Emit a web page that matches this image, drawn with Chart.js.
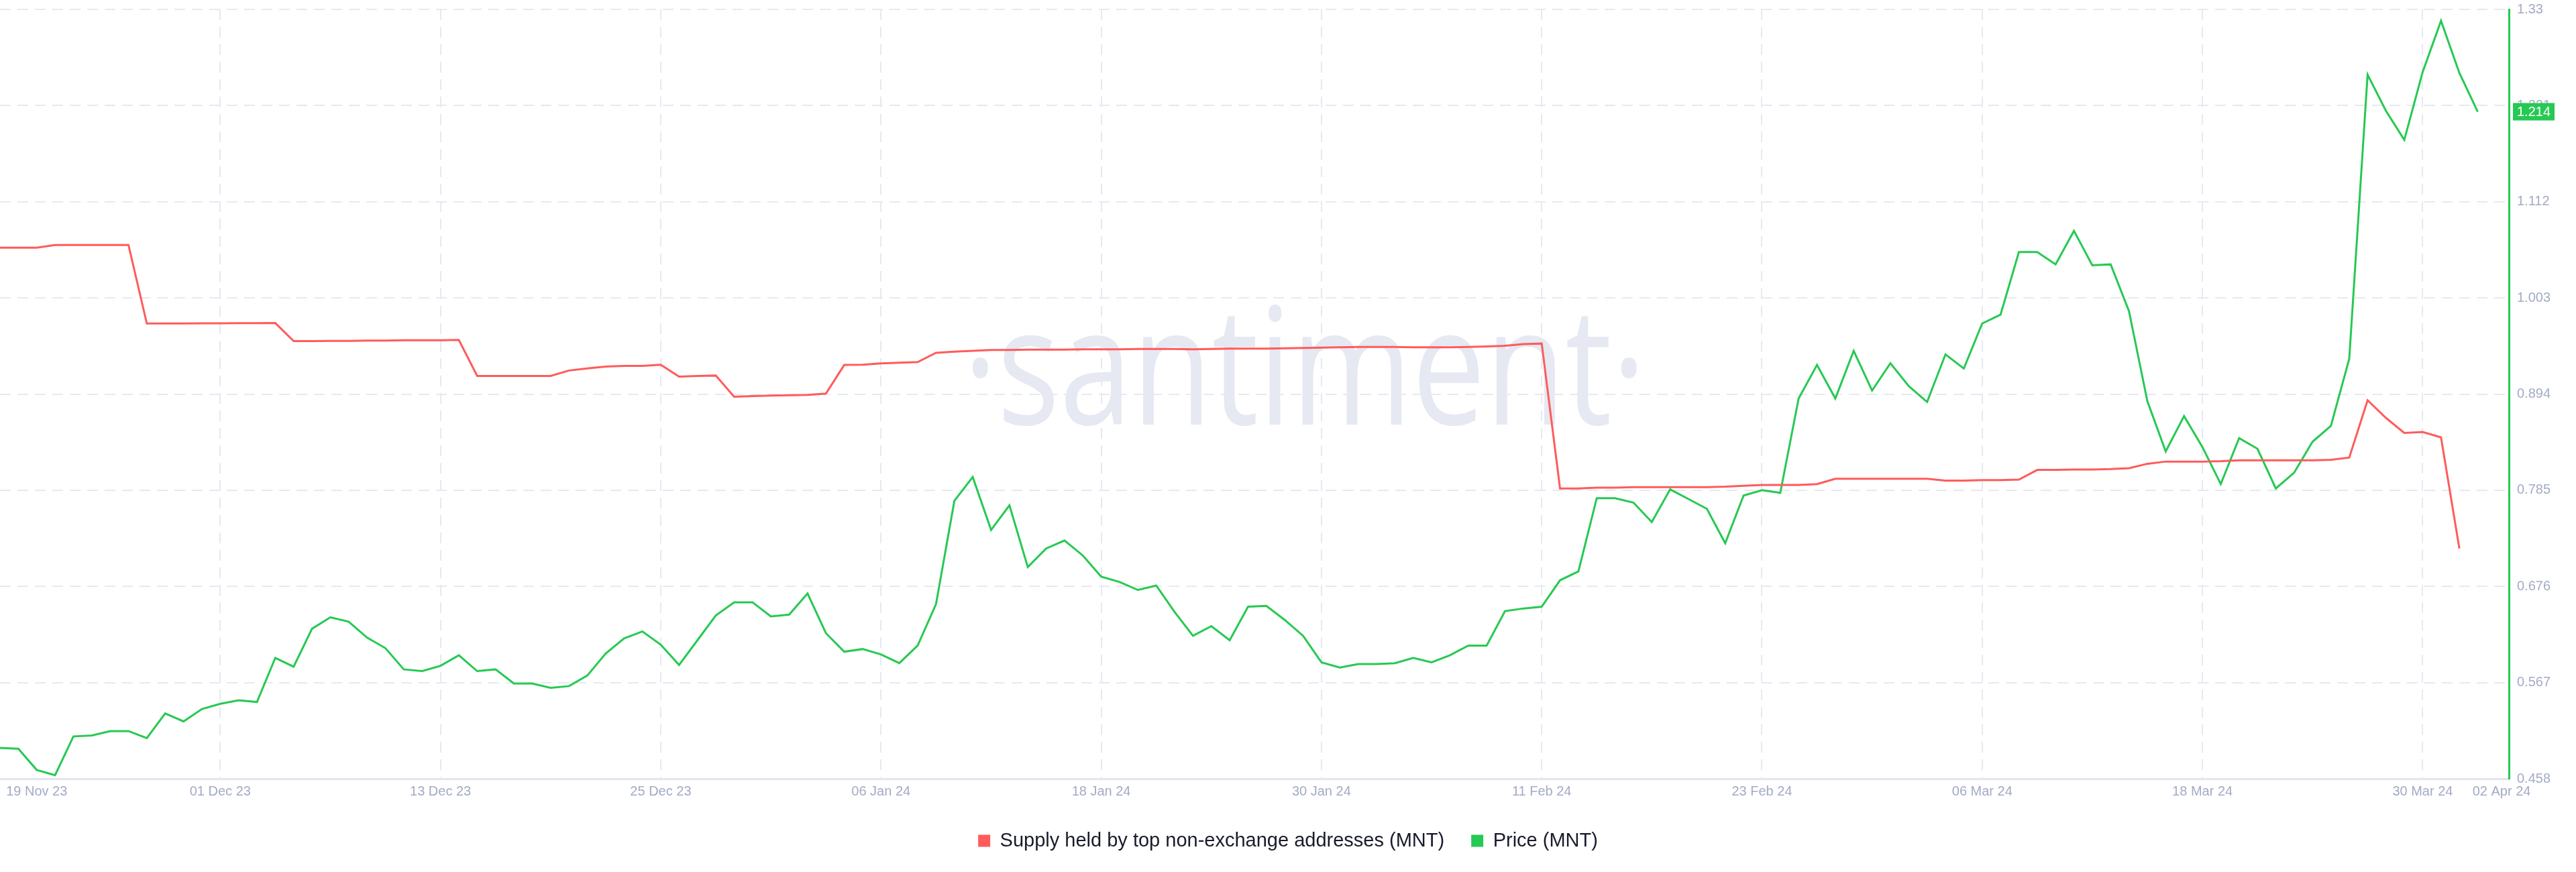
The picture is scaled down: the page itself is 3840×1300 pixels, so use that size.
<!DOCTYPE html>
<html>
<head>
<meta charset="utf-8">
<script src="https://cdn.jsdelivr.net/npm/chart.js@4.4.1/dist/chart.umd.min.js"></script>
<style>
  html, body { margin: 0; padding: 0; background: #fff; }
  #wrap { width: 3840px; height: 1300px; }
</style>
</head>
<body>
<div id="wrap"><canvas id="chart" width="3840" height="1300"></canvas></div>
<script>
// daily values, day 0 = 19 Nov 23
const priceMNT = [
  0.493, 0.492, 0.468, 0.462, 0.506, 0.507, 0.512, 0.512, 0.504, 0.532,
  0.523, 0.537, 0.543, 0.547, 0.545, 0.595, 0.585, 0.628, 0.641, 0.636,
  0.618, 0.606, 0.582, 0.580, 0.586, 0.598, 0.580, 0.582, 0.566, 0.566,
  0.561, 0.563, 0.575, 0.600, 0.617, 0.625, 0.610, 0.587, 0.615, 0.643,
  0.658, 0.658, 0.642, 0.644, 0.668, 0.623, 0.602, 0.605, 0.599, 0.589,
  0.609, 0.656, 0.773, 0.800, 0.740, 0.768, 0.698, 0.719, 0.728, 0.711,
  0.687, 0.681, 0.672, 0.677, 0.647, 0.620, 0.631, 0.615, 0.653, 0.654,
  0.638, 0.620, 0.590, 0.584, 0.588, 0.588, 0.589, 0.595, 0.590, 0.598,
  0.609, 0.609, 0.648, 0.651, 0.653, 0.683, 0.693, 0.776, 0.776, 0.771,
  0.749, 0.786, 0.775, 0.764, 0.725, 0.779, 0.785, 0.782, 0.889, 0.927,
  0.889, 0.943, 0.898, 0.929, 0.903, 0.885, 0.939, 0.923, 0.974, 0.984,
  1.055, 1.055, 1.041, 1.079, 1.040, 1.041, 0.988, 0.886, 0.829, 0.869,
  0.834, 0.792, 0.844, 0.832, 0.787, 0.805, 0.840, 0.858, 0.934, 1.256,
  1.215, 1.182, 1.259, 1.317, 1.258, 1.214
];

// supply held by top non-exchange addresses (own hidden axis)
const supplyTop = [
  1.060, 1.060, 1.060, 1.063, 1.063, 1.063, 1.063, 1.063, 0.974, 0.974,
  0.974, 0.9742, 0.9742, 0.9744, 0.9744, 0.9745, 0.954, 0.954, 0.9543, 0.9543,
  0.9546, 0.9546, 0.955, 0.955, 0.955, 0.9553, 0.9146, 0.9146, 0.9146, 0.9146,
  0.9146, 0.9207, 0.923, 0.9251, 0.926, 0.926, 0.9273, 0.9137, 0.9146, 0.915,
  0.891, 0.8918, 0.8922, 0.8927, 0.893, 0.8945, 0.927, 0.9273, 0.9288, 0.9296,
  0.9303, 0.9408, 0.942, 0.943, 0.9439, 0.9439, 0.9443, 0.9443, 0.9443, 0.9447,
  0.9447, 0.9447, 0.9451, 0.9451, 0.9451, 0.9447, 0.9451, 0.9455, 0.9455, 0.9455,
  0.9459, 0.9463, 0.9467, 0.9471, 0.9475, 0.9475, 0.9475, 0.9471, 0.9471, 0.9471,
  0.9475, 0.9479, 0.9487, 0.9506, 0.9513, 0.787, 0.787, 0.788, 0.788, 0.7885,
  0.7885, 0.7885, 0.7885, 0.7885, 0.789, 0.790, 0.791, 0.791, 0.791, 0.792,
  0.798, 0.798, 0.798, 0.798, 0.798, 0.798, 0.796, 0.796, 0.7965, 0.7965,
  0.797, 0.808, 0.808, 0.8085, 0.8085, 0.809, 0.810, 0.815, 0.8175, 0.8175,
  0.8175, 0.818, 0.819, 0.819, 0.819, 0.819, 0.819, 0.8195, 0.822, 0.887,
  0.867, 0.850, 0.851, 0.845, 0.719
];

const xTickLabels = ['19 Nov 23', '01 Dec 23', '13 Dec 23', '25 Dec 23', '06 Jan 24', '18 Jan 24',
  '30 Jan 24', '11 Feb 24', '23 Feb 24', '06 Mar 24', '18 Mar 24', '30 Mar 24', '02 Apr 24'];
// label positions in days (first and last are kept inside the plot)
const xTickPos = [2, 12, 24, 36, 48, 60, 72, 84, 96, 108, 120, 132, 136.3];

const priceTicks = [0.458, 0.567, 0.676, 0.785, 0.894, 1.003, 1.112, 1.221, 1.33];
const priceTickLabels = ['0.458', '0.567', '0.676', '0.785', '0.894', '1.003', '1.112', '1.221', '1.33'];

const GREEN = '#26c953';
const RED = '#ff5b5b';
const TICK = '#a3abc4';
const GRID = '#e7e9f2';
const FONT = '"Liberation Sans", Arial, sans-serif';

const watermark = {
  id: 'watermark',
  beforeDatasetsDraw(chart) {
    const {ctx, chartArea: a} = chart;
    ctx.save();
    ctx.fillStyle = '#e6e8f2';
    ctx.font = '243px "Open Sans"';
    ctx.textAlign = 'center';
    ctx.textBaseline = 'alphabetic';
    ctx.translate(a.left + a.width * 0.52, a.top + a.height * 0.5395);
    ctx.scale(0.8, 1);
    ctx.fillText('\u00b7santiment\u00b7', 0, 0);
    ctx.restore();
  }
};

const lastPrice = {
  id: 'lastPrice',
  afterDraw(chart) {
    const ctx = chart.ctx;
    const y = chart.scales.y;
    const v = priceMNT[priceMNT.length - 1];
    const py = y.getPixelForValue(v);
    ctx.save();
    ctx.fillStyle = GREEN;
    ctx.fillRect(y.left + 6, py - 13, 62, 26);
    ctx.fillStyle = '#fff';
    ctx.font = '20px ' + FONT;
    ctx.textAlign = 'center';
    ctx.textBaseline = 'middle';
    ctx.fillText(v.toFixed(3), y.left + 37, py + 1);
    ctx.restore();
  }
};

const ctx = document.getElementById('chart').getContext('2d');
new Chart(ctx, {
  type: 'line',
  data: {
    datasets: [{
      label: 'Supply held by top non-exchange addresses (MNT)',
      data: supplyTop.map((v, i) => ({x: i, y: v})),
      borderColor: RED,
      backgroundColor: RED,
      borderWidth: 3,
      pointRadius: 0,
      tension: 0,
      yAxisID: 'ySupply'
    }, {
      label: 'Price (MNT)',
      data: priceMNT.map((v, i) => ({x: i, y: v})),
      borderColor: GREEN,
      backgroundColor: GREEN,
      borderWidth: 3,
      pointRadius: 0,
      tension: 0,
      yAxisID: 'y'
    }]
  },
  options: {
    responsive: false,
    animation: false,
    devicePixelRatio: 1,
    layout: { padding: { top: 14, bottom: 22, left: 0, right: 0 } },
    plugins: {
      tooltip: { enabled: false },
      legend: {
        position: 'bottom',
        labels: {
          color: '#191b2a',
          font: { family: FONT, size: 29 },
          boxWidth: 18,
          boxHeight: 18,
          padding: 40,
          generateLabels: chart => Chart.defaults.plugins.legend.labels.generateLabels(chart)
            .map(l => ({...l, lineWidth: 0}))
        }
      }
    },
    scales: {
      x: {
        type: 'linear',
        min: 0,
        max: 136.7,
        afterBuildTicks: s => { s.ticks = xTickPos.map(v => ({value: v})); },
        ticks: {
          autoSkip: false,
          maxRotation: 0,
          padding: 7,
          color: TICK,
          font: { family: FONT, size: 20 },
          callback: (v, i) => xTickLabels[i]
        },
        grid: {
          color: c => (c.index === 0 || c.index === xTickPos.length - 1) ? 'rgba(0,0,0,0)' : GRID,
          lineWidth: 2,
          drawTicks: false
        },
        border: { display: true, color: '#e2e5ef', width: 3, dash: [16, 10] }
      },
      y: {
        position: 'right',
        min: 0.458,
        max: 1.33,
        afterBuildTicks: s => { s.ticks = priceTicks.map(v => ({value: v})); },
        afterFit: s => { s.width = 100; s.paddingTop = 0; s.paddingBottom = 0; },
        ticks: {
          padding: 12,
          color: TICK,
          font: { family: FONT, size: 20 },
          callback: (v, i) => priceTickLabels[i]
        },
        grid: { color: GRID, lineWidth: 2, drawTicks: false },
        border: { display: true, color: GREEN, width: 3, dash: [16, 10] }
      },
      ySupply: {
        display: false,
        min: 0.458,
        max: 1.33
      }
    }
  },
  plugins: [watermark, lastPrice]
});
</script>
</body>
</html>
